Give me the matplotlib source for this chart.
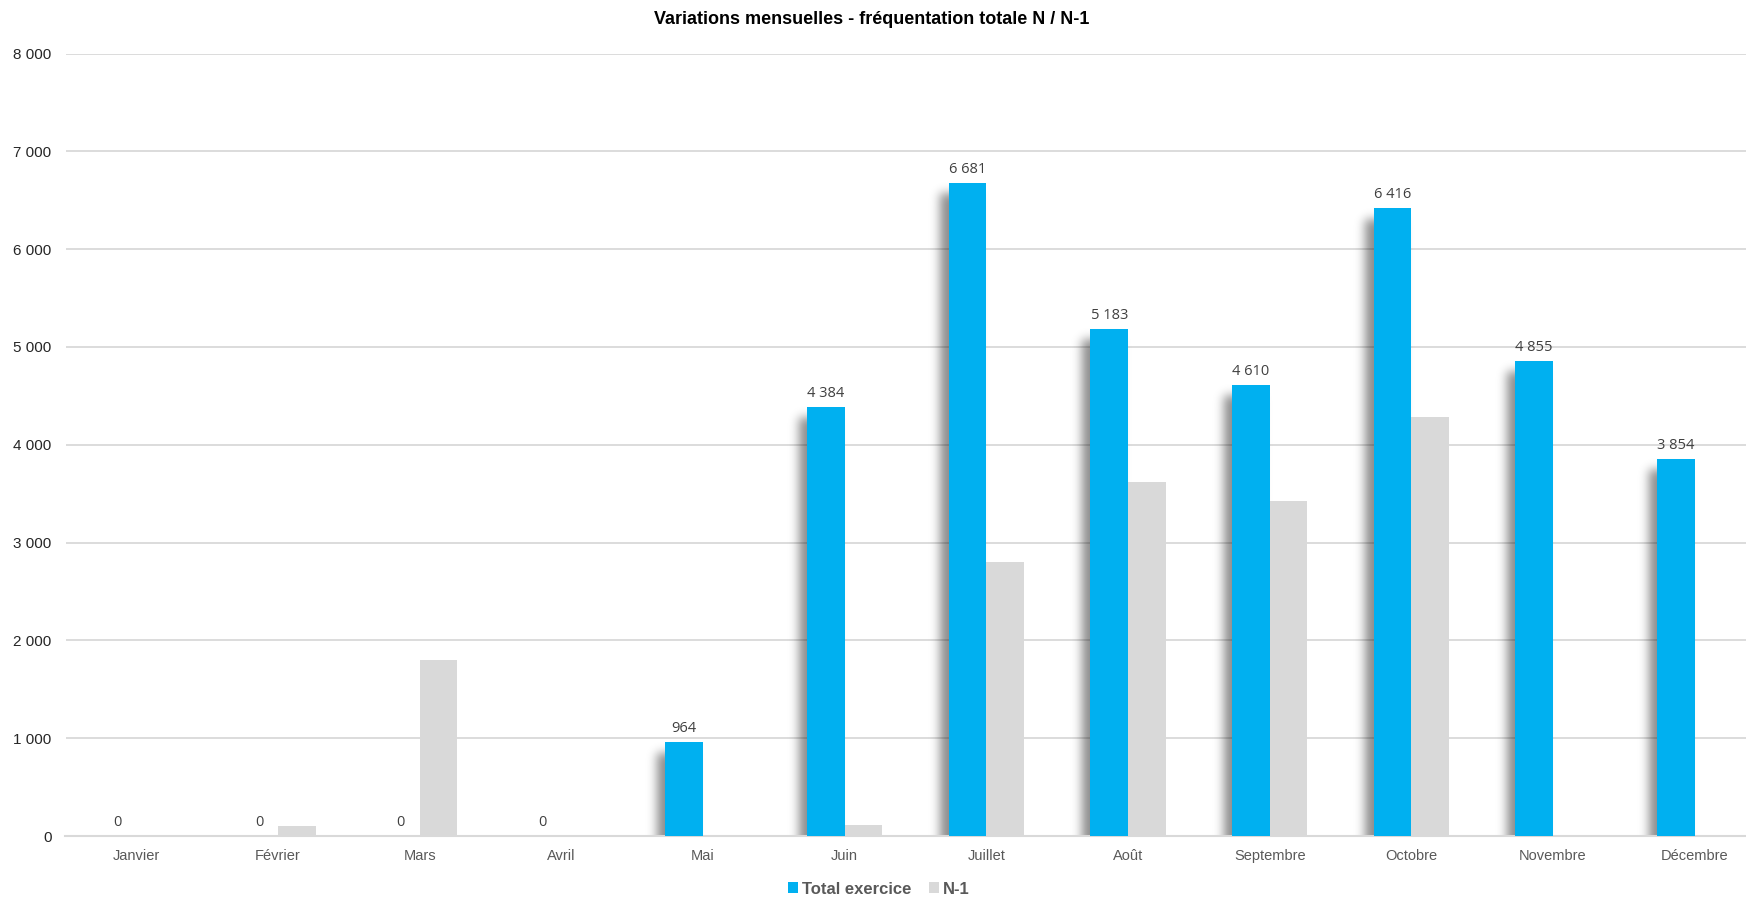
import numpy as np
import matplotlib
matplotlib.use("Agg")
import matplotlib.pyplot as plt
from matplotlib.patches import Patch
from matplotlib.ticker import FuncFormatter, FixedLocator

# Monthly attendance: current year vs previous year
months = ["Janvier", "Février", "Mars", "Avril", "Mai", "Juin",
          "Juillet", "Août", "Septembre", "Octobre", "Novembre", "Décembre"]
total_exercice = [0, 0, 0, 0, 964, 4384, 6681, 5183, 4610, 6416, 4855, 3854]
n_moins_1 = [0, 105, 1800, 0, 0, 115, 2800, 3620, 3430, 4280, 0, 0]
y_ticks = [0, 1000, 2000, 3000, 4000, 5000, 6000, 7000, 8000]
series_names = ["Total exercice", "N-1"]

BLUE = "#00B0F0"
GREY = "#D9D9D9"
GRID = "#D9D9D9"

FIG_W, FIG_H = 1746, 898
fig = plt.figure(figsize=(FIG_W / 100, FIG_H / 100), dpi=100)
AX_L, AX_B, AX_W, AX_H = 65.5, 62, 1700, 782.5
ax = fig.add_axes([AX_L / FIG_W, AX_B / FIG_H, AX_W / FIG_W, AX_H / FIG_H])

x = np.arange(len(months))
w = 0.265
XMIN, XMAX, YMIN, YMAX = -0.5, len(months) - 0.5, 0, 8000

ax.bar(x - w / 2, total_exercice, w, color=BLUE, zorder=3, linewidth=0)
ax.bar(x + w / 2, n_moins_1, w, color=GREY, zorder=3, linewidth=0)

# soft drop shadow to the left of the current-year bars
H, W = int(round(AX_H)), int(round(AX_W))
pad = 40
mask = np.zeros((H + 2 * pad, W + 2 * pad))
for xi, v in zip(x, total_exercice):
    if v <= 0:
        continue
    left = (xi - w - XMIN) / (XMAX - XMIN) * W
    right = (xi - XMIN) / (XMAX - XMIN) * W
    top = (YMAX - v) / (YMAX - YMIN) * H
    l = int(round(left - 9)) + pad
    r = int(round(right - 9)) + pad
    t = int(round(top + 11)) + pad
    mask[t:, l:r] = 1.0
sigma = 5.0
k = np.arange(-16, 17)
kern = np.exp(-0.5 * (k / sigma) ** 2)
kern /= kern.sum()
mask = np.apply_along_axis(lambda row: np.convolve(row, kern, mode="same"), 1, mask)
mask = np.apply_along_axis(lambda col: np.convolve(col, kern, mode="same"), 0, mask)
mask = mask[pad:pad + H, pad:pad + W]
rgba = np.zeros((H, W, 4))
rgba[..., :3] = 0.0
rgba[..., 3] = mask * 0.45
ax.imshow(rgba, extent=(XMIN, XMAX, YMIN, YMAX), aspect="auto",
          origin="upper", zorder=2, interpolation="bilinear")

ax.set_xlim(XMIN, XMAX)
ax.set_ylim(YMIN, YMAX)

# value labels on current-year bars
for xi, v in zip(x, total_exercice):
    ax.annotate(f"{v:,}".replace(",", " "), xy=(xi - w / 2, v),
                xytext=(0, 7.2), textcoords="offset points",
                ha="center", va="baseline", fontsize=10.5,
                family="Open Sans", color="#404040", zorder=5)

# axes styling
ax.set_axisbelow(True)
ax.yaxis.set_major_locator(FixedLocator(y_ticks))
ax.yaxis.set_major_formatter(FuncFormatter(lambda v, p: f"{int(v):,}".replace(",", " ")))
ax.yaxis.grid(True, color=GRID, linewidth=1.3)
ax.set_xticks(x)
ax.set_xticklabels(months)
for s in ["top", "right", "left"]:
    ax.spines[s].set_visible(False)
ax.spines["bottom"].set_color(GRID)
ax.spines["bottom"].set_linewidth(1.5)
ax.tick_params(axis="both", length=0)
ax.tick_params(axis="y", pad=10, labelsize=11, labelcolor="#262626")
ax.tick_params(axis="x", pad=9.5, labelsize=10.5, labelcolor="#595959")
for lab in ax.get_xticklabels() + ax.get_yticklabels():
    lab.set_family("Liberation Sans")

fig.text(872 / FIG_W, 1 - 20 / FIG_H,
         "Variations mensuelles - fréquentation totale N / N-1",
         ha="center", va="center", fontsize=13, fontweight="bold",
         family="Liberation Sans", color="black")

handles = [Patch(facecolor=BLUE, edgecolor="none"), Patch(facecolor=GREY, edgecolor="none")]
fig.legend(handles, series_names, loc="center",
           bbox_to_anchor=(878.5 / FIG_W, 1 - 889 / FIG_H), ncol=2, frameon=False,
           handlelength=0.65, handleheight=0.65, handletextpad=0.2, columnspacing=1.05,
           prop={"family": "Liberation Sans", "weight": "bold", "size": 12},
           labelcolor="#595959", borderpad=0)

fig.savefig("out.png", dpi=100)
